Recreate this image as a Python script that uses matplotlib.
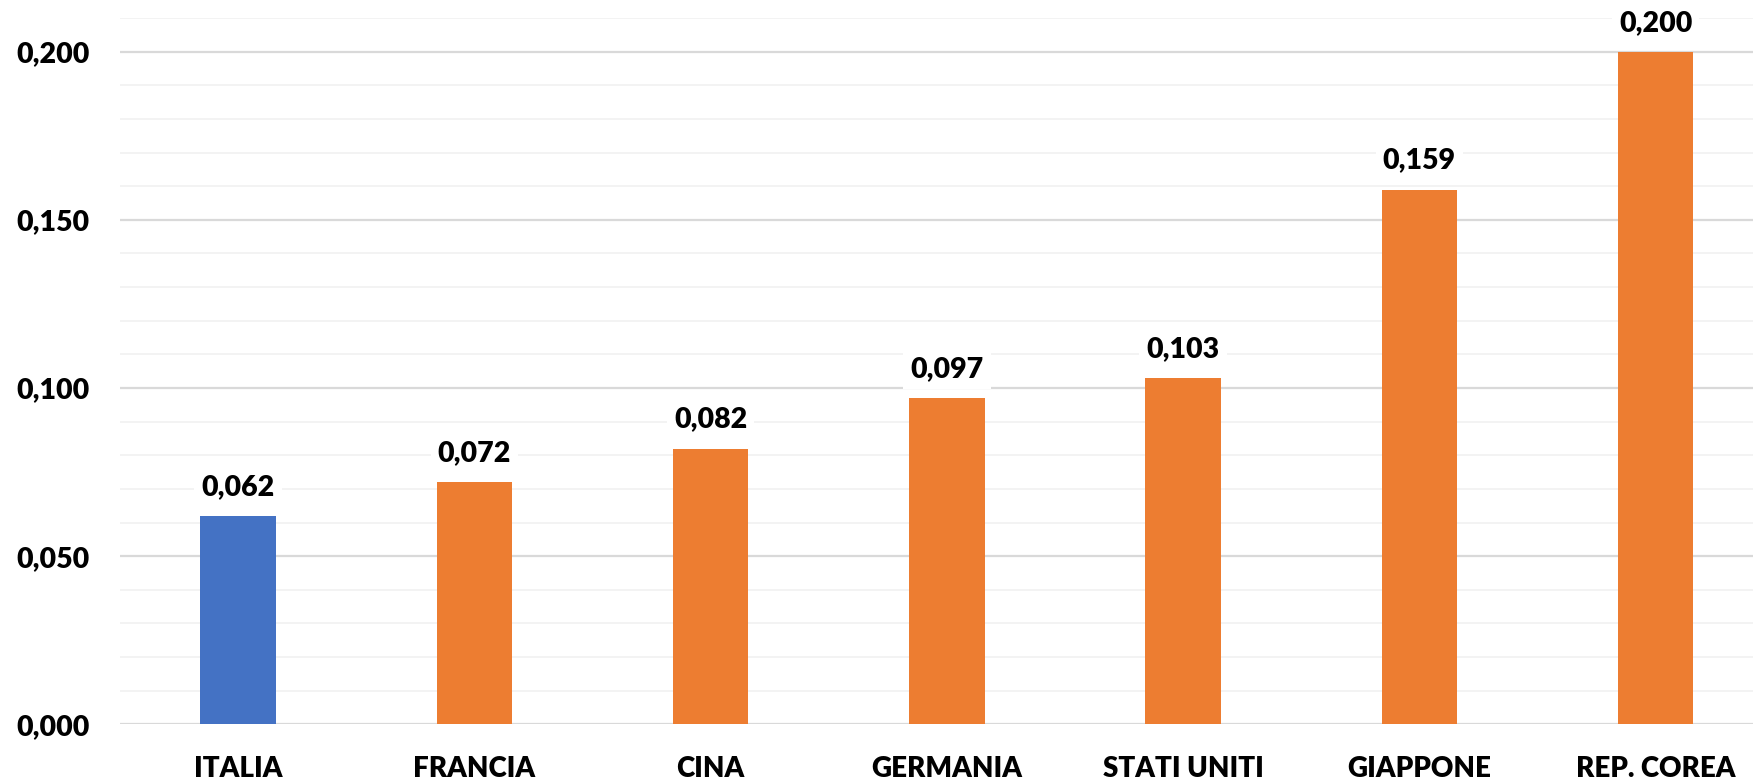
import matplotlib
matplotlib.use("Agg")
import matplotlib.pyplot as plt
from matplotlib.ticker import MultipleLocator, FuncFormatter

countries = ["ITALIA", "FRANCIA", "CINA", "GERMANIA", "STATI UNITI", "GIAPPONE", "REP. COREA"]
values = [0.062, 0.072, 0.082, 0.097, 0.103, 0.159, 0.200]
bar_colors = ["#4472C4"] + ["#ED7D31"] * 6

WEIGHT = "heavy"
plt.rcParams["font.family"] = ["Lato", "DejaVu Sans"]
plt.rcParams["font.weight"] = WEIGHT

fig = plt.figure(figsize=(17.53, 7.79), dpi=100)
ax = fig.add_axes([0.0685, 0.0702, 0.9433, 0.9066])

x = range(len(countries))
ax.bar(x, values, width=0.32, color=bar_colors, zorder=3)

ax.set_xlim(-0.5, len(countries) - 0.5)
ax.set_ylim(0, 0.21)
ax.yaxis.set_major_locator(MultipleLocator(0.05))
ax.yaxis.set_minor_locator(MultipleLocator(0.01))
ax.yaxis.set_major_formatter(FuncFormatter(lambda v, p: f"{v:.3f}".replace(".", ",")))
ax.grid(which="minor", axis="y", color="#f2f2f2", linewidth=1.3, zorder=0)
ax.grid(which="major", axis="y", color="#d9d9d9", linewidth=1.6, zorder=1)
ax.set_axisbelow(True)

for s in ax.spines.values():
    s.set_visible(False)
ax.tick_params(axis="both", which="both", length=0)
ax.tick_params(axis="y", pad=22, labelsize=20.5)
ax.tick_params(axis="x", pad=23, labelsize=20)
ax.set_xticks(list(x))
ax.set_xticklabels(countries, fontweight=WEIGHT)
for t in ax.get_yticklabels():
    t.set_fontweight(WEIGHT)

for xi, v in zip(x, values):
    ax.annotate(f"{v:.3f}".replace(".", ","), (xi, v), xytext=(0, 11.5),
                textcoords="offset points", ha="center", va="bottom",
                fontsize=20.5, fontweight=WEIGHT, zorder=5,
                bbox=dict(boxstyle="square,pad=0.25", fc="white", ec="none"))

fig.savefig("out.png", dpi=100)
